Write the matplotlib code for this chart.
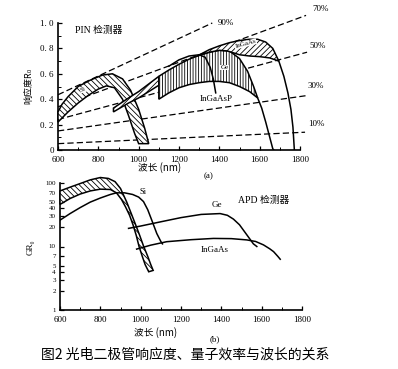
import matplotlib
matplotlib.use("Agg")
import matplotlib.pyplot as plt
import numpy as np

plt.rcParams['font.family'] = ['Liberation Serif', 'Noto Sans CJK SC', 'DejaVu Sans']
plt.rcParams['hatch.linewidth'] = 0.6
CJK = ['Noto Sans CJK SC', 'DejaVu Sans']

# ---------------- (a) PIN responsivity ----------------
si_up_wl = [600, 620, 650, 700, 760, 820, 870, 920, 960, 1000, 1030, 1050]
si_up_r = [0.30, 0.36, 0.42, 0.50, 0.55, 0.59, 0.60, 0.56, 0.47, 0.32, 0.17, 0.05]
si_lo_wl = [600, 650, 700, 750, 800, 840, 880, 920, 950, 980, 1000]
si_lo_r = [0.22, 0.30, 0.37, 0.43, 0.48, 0.505, 0.49, 0.40, 0.27, 0.13, 0.05]

ge_strip_wl = [875, 950, 1000, 1050, 1100]
ge_strip_up = [0.33, 0.41, 0.46, 0.52, 0.58]
ge_strip_lo = [0.30, 0.37, 0.41, 0.46, 0.51]

ge_up_wl = [1100, 1150, 1200, 1250, 1300, 1350, 1400, 1450, 1500, 1540, 1570, 1590]
ge_up_r = [0.58, 0.63, 0.675, 0.715, 0.745, 0.77, 0.785, 0.78, 0.72, 0.62, 0.50, 0.41]
ge_lo_wl = [1100, 1150, 1200, 1250, 1300, 1350, 1400, 1450, 1500, 1550, 1590]
ge_lo_r = [0.40, 0.45, 0.49, 0.515, 0.53, 0.54, 0.54, 0.53, 0.50, 0.46, 0.41]
ge_tail_wl = [1590, 1610, 1630, 1645, 1655, 1665, 1670]
ge_tail_r = [0.41, 0.33, 0.22, 0.13, 0.07, 0.01, 0.0]

ingaasp_wl = [1150, 1200, 1250, 1300, 1330, 1355, 1370, 1382]
ingaasp_r = [0.66, 0.71, 0.74, 0.75, 0.73, 0.65, 0.56, 0.45]

ingaas_up_wl = [1290, 1350, 1400, 1450, 1500, 1550, 1590, 1630, 1665, 1695, 1720, 1740, 1755, 1765, 1772]
ingaas_up_r = [0.74, 0.79, 0.82, 0.845, 0.862, 0.872, 0.872, 0.85, 0.80, 0.70, 0.58, 0.45, 0.32, 0.18, 0.0]
ingaas_lo_wl = [1290, 1350, 1400, 1440, 1500, 1550, 1600, 1650, 1695]
ingaas_lo_r = [0.74, 0.77, 0.785, 0.78, 0.75, 0.74, 0.735, 0.725, 0.70]

# quantum efficiency lines: start (600 nm) and end points
eff_labels = ['90%', '70%', '50%', '30%', '10%']
eff_start_r = [0.435, 0.34, 0.24, 0.15, 0.05]
eff_end_wl = [1365, 1830, 1835, 1840, 1825]
eff_end_r = [1.00, 1.06, 0.77, 0.43, 0.14]
eff_label_wl = [1430, 1900, 1885, 1880, 1880]
eff_label_r = [1.00, 1.11, 0.82, 0.50, 0.205]

a_xticks = [600, 800, 1000, 1200, 1400, 1600, 1800]
a_yticks = [0, 0.2, 0.4, 0.6, 0.8, 1.0]
a_yticklabels = ['0', '0. 2', '0. 4', '0. 6', '0. 8', '1. 0']

# ---------------- (b) APD ----------------
b_si_up_wl = [600, 650, 700, 750, 800, 840, 873, 900, 931, 955, 975, 995, 1015, 1035, 1050, 1062]
b_si_up = [75, 86, 98, 112, 122, 118, 105, 82, 50, 32, 22, 15, 10, 7, 5.2, 4.2]
b_si_lo_wl = [600, 650, 700, 750, 800, 850, 880, 905, 925, 945, 962, 978, 992, 1008, 1022, 1040]
b_si_lo = [46, 57, 67, 75, 80, 79, 70, 55, 42, 31, 22, 15, 10, 7, 5.2, 4.0]
b_si_wl = [600, 650, 700, 750, 800, 850, 880, 920, 960, 990, 1014, 1035, 1055, 1080, 1100, 1108]
b_si = [26, 33, 41, 50, 58, 66, 70, 70, 66, 60, 51, 38, 26, 16, 12, 11]
b_ge_wl = [940, 1000, 1100, 1200, 1300, 1394, 1430, 1460, 1490, 1510, 1535, 1559, 1576]
b_ge = [19.3, 21, 24.5, 28.5, 32, 33, 31, 27, 22, 18, 14, 11, 10]
b_ingaas_wl = [980, 1050, 1129, 1250, 1361, 1450, 1526, 1570, 1609, 1640, 1659, 1680, 1692]
b_ingaas = [9.1, 10.5, 11.9, 12.8, 13.4, 13.3, 12.7, 12, 10.6, 9.2, 8.3, 7.0, 6.3]

b_yticks = [1, 2, 3, 4, 5, 7, 10, 20, 30, 40, 50, 70, 100]

W, H = 398, 369
fig = plt.figure(figsize=(W / 100, H / 100), dpi=100)
fig.patch.set_facecolor('white')


def px_axes(x0, x1, ytop, ybot):
    return fig.add_axes([x0 / W, (H - ybot) / H, (x1 - x0) / W, (ybot - ytop) / H])


def style(ax):
    for s in ['top', 'right']:
        ax.spines[s].set_visible(False)
    for s in ['left', 'bottom']:
        ax.spines[s].set_linewidth(1.2)
    ax.tick_params(direction='in', length=3, width=0.9, labelsize=6.5)
    ax.tick_params(axis='x', pad=4)
    ax.tick_params(axis='y', pad=3)
    ax.tick_params(which='minor', direction='in', length=2, width=0.7)
    ax.patch.set_alpha(0)


def band(ax, xu, yu, xl, yl, hatch):
    xs = list(xu) + list(xl)[::-1]
    ys = list(yu) + list(yl)[::-1]
    ax.fill(xs, ys, facecolor='white', edgecolor='black', hatch=hatch, linewidth=1.1,
            zorder=3, clip_on=False)


LBL_BOX = dict(facecolor='white', edgecolor='none', pad=0.3)

# ----- axes (a)
axa = px_axes(58, 300, 23, 150)
style(axa)
axa.set_xlim(600, 1800)
axa.set_ylim(0, 1.0)
axa.set_xticks(a_xticks)
axa.set_xticks(np.arange(600, 1801, 100), minor=True)
axa.set_yticks(a_yticks)
axa.set_yticklabels(a_yticklabels)
axa.set_yticks(np.arange(0, 1.01, 0.1), minor=True)

for sr, ew, er, lab, lw_, lr in zip(eff_start_r, eff_end_wl, eff_end_r, eff_labels, eff_label_wl, eff_label_r):
    axa.plot([600, ew], [sr, er], ls=(0, (5, 2.5)), color='black', lw=0.9, clip_on=False, zorder=2)
    axa.text(lw_, lr, lab, fontsize=6.5, ha='center', va='center', clip_on=False)

band(axa, si_up_wl, si_up_r, si_lo_wl, si_lo_r, '\\\\\\\\\\\\')
band(axa, ge_strip_wl, ge_strip_up, ge_strip_wl, ge_strip_lo, '//////')
band(axa, ge_up_wl, ge_up_r, ge_lo_wl, ge_lo_r, '||||||')
axa.plot(ge_tail_wl, ge_tail_r, color='black', lw=1.1, zorder=4)
band(axa, ingaas_up_wl[:10], ingaas_up_r[:10], ingaas_lo_wl, ingaas_lo_r, '//////')
axa.plot(ingaas_up_wl[9:], ingaas_up_r[9:], color='black', lw=1.1, zorder=4)
axa.plot(ingaasp_wl, ingaasp_r, color='black', lw=1.1, zorder=4)

axa.text(725, 0.475, 'Si', fontsize=5, rotation=20, ha='center', va='center', zorder=5, bbox=LBL_BOX)
axa.text(1425, 0.65, 'Ge', fontsize=5, ha='center', va='center', zorder=5, bbox=LBL_BOX)
axa.text(1530, 0.835, 'InGaAs', fontsize=5, rotation=15, ha='center', va='center', zorder=5, bbox=LBL_BOX)
axa.text(1385, 0.40, 'InGaAsP', fontsize=6.5, ha='center', va='center', zorder=5)
axa.text(800, 0.94, 'PIN 检测器', fontsize=7, ha='center', va='center', family=['Liberation Serif', 'Noto Sans CJK SC'])

fig.text(30 / W, 1 - 86 / H, '响应度R₀', fontsize=6.5, rotation=90, ha='center', va='center', family=CJK)
fig.text(160 / W, 1 - 168 / H, '波长 (nm)', fontsize=7, ha='center', va='center', family=CJK)
fig.text(209 / W, 1 - 176 / H, '(a)', fontsize=6.5, ha='center', va='center')

# ----- axes (b)
axb = px_axes(60, 302, 183, 310)
style(axb)
axb.set_xlim(600, 1800)
axb.set_yscale('log')
axb.set_ylim(1, 100)
axb.set_xticks(a_xticks)
axb.set_xticks(np.arange(600, 1801, 100), minor=True)
axb.set_yticks(b_yticks)
axb.set_yticklabels([str(v) for v in b_yticks])
axb.tick_params(axis='y', labelsize=5)
axb.yaxis.set_minor_locator(matplotlib.ticker.NullLocator())

band(axb, b_si_up_wl, b_si_up, b_si_lo_wl, b_si_lo, '\\\\\\\\\\\\')
axb.plot(b_si_wl, b_si, color='black', lw=1.1, zorder=4)
axb.plot(b_ge_wl, b_ge, color='black', lw=1.1, zorder=4)
axb.plot(b_ingaas_wl, b_ingaas, color='black', lw=1.1, zorder=4)

axb.text(1010, 72, 'Si', fontsize=6, ha='center', va='center')
axb.text(1379, 45, 'Ge', fontsize=6.5, ha='center', va='center')
axb.text(1369, 8.8, 'InGaAs', fontsize=6.5, ha='center', va='center')
axb.text(1612, 54, 'APD 检测器', fontsize=7, ha='center', va='center', family=['Liberation Serif', 'Noto Sans CJK SC'])

fig.text(31 / W, 1 - 247 / H, 'GR₀', fontsize=6.5, rotation=90, ha='center', va='center', family=['Liberation Serif', 'DejaVu Sans'])
fig.text(156 / W, 1 - 333 / H, '波长 (nm)', fontsize=7, ha='center', va='center', family=CJK)
fig.text(215 / W, 1 - 339 / H, '(b)', fontsize=6.5, ha='center', va='center')

fig.text(185 / W, 1 - 355 / H, '图2 光电二极管响应度、量子效率与波长的关系', fontsize=10, ha='center', va='center', family=CJK)

fig.savefig('out.png', dpi=100)
